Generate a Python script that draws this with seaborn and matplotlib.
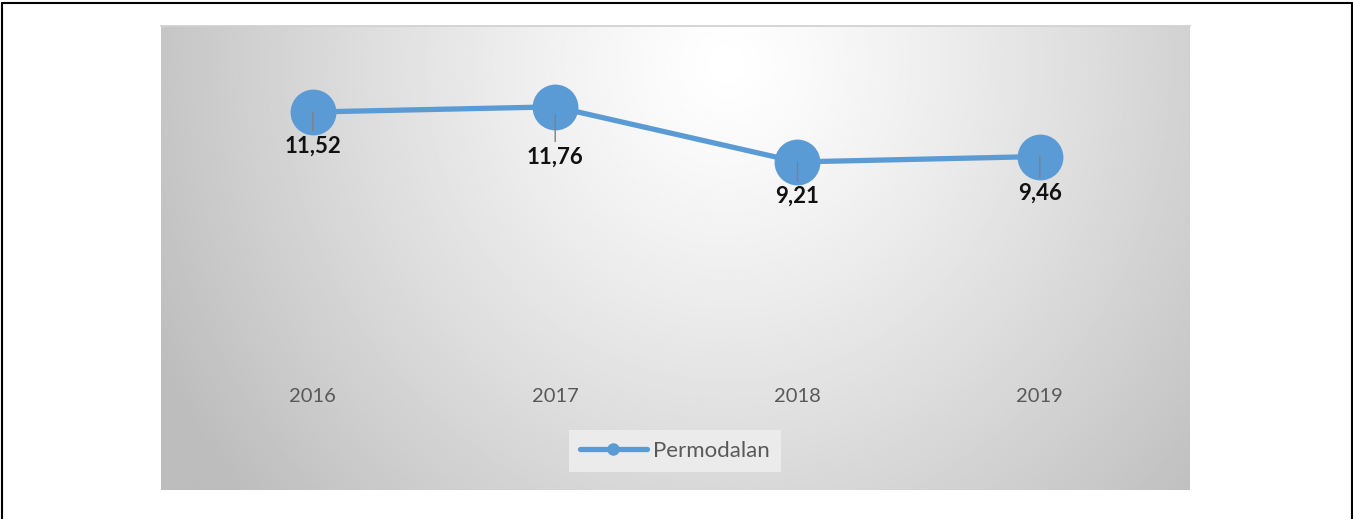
import matplotlib
matplotlib.use("Agg")
import matplotlib.pyplot as plt
import numpy as np
import pandas as pd
import seaborn as sns
from matplotlib.lines import Line2D

years = ["2016", "2017", "2018", "2019"]
permodalan = [11.52, 11.76, 9.21, 9.46]
value_labels = ["11,52", "11,76", "9,21", "9,46"]
series_name = "Permodalan"

# label placement below each marker (points), as in the source chart
label_drop = [24.5, 36, 25, 26.5]

df = pd.DataFrame({"year": years, "value": permodalan})

sns.set_theme(style="white")
plt.rcParams["font.family"] = ["Lato", "DejaVu Sans"]

W, H = 1353, 519
fig = plt.figure(figsize=(W / 100, H / 100), dpi=100)
fig.patch.set_facecolor("white")

# plot area = grey gradient panel
ax = fig.add_axes([161 / W, 1 - 490 / H, (1190 - 161) / W, (490 - 26) / H])

# radial grey background
gx, gy = np.meshgrid(np.linspace(0, 1, 400), np.linspace(0, 1, 200))
d = np.sqrt(((gx - 0.55) / 0.62) ** 2 + ((gy - 0.92) / 1.45) ** 2)
shade = 1.0 - 0.26 * np.clip(d, 0, 1) ** 1.2
ax.imshow(shade, cmap="gray", vmin=0, vmax=1, origin="lower",
          extent=[0, 1, 0, 1], transform=ax.transAxes, aspect="auto", zorder=0)

color = "#5b9bd5"
sns.lineplot(data=df, x="year", y="value", ax=ax, color=color, linewidth=3.8,
             marker="o", markersize=33, markeredgewidth=0, sort=False, zorder=3)

ax.set_xlim(-0.627, 3.62)
ax.set_ylim(-5.97, 15.5)

for i, (v, lab, dy) in enumerate(zip(permodalan, value_labels, label_drop)):
    ax.annotate("", xy=(i, v), xytext=(0, -(dy - 11)), textcoords="offset points",
                arrowprops=dict(arrowstyle="-", color="#808080", lw=1.0,
                                shrinkA=0, shrinkB=-5 if dy > 30 else 0), zorder=4)
    ax.annotate(lab, xy=(i, v), xytext=(0, -dy), textcoords="offset points",
                ha="center", va="center", fontsize=16, fontweight="bold",
                color="#111111", zorder=5)

ax.set_xlabel("")
ax.set_ylabel("")
ax.set_yticks([])
ax.set_xticks(range(len(years)))
ax.set_xticklabels(years)
ax.tick_params(axis="x", length=0, labelsize=14.5, labelcolor="#595959", pad=0)
for lbl in ax.get_xticklabels():
    lbl.set_transform(ax.get_xaxis_transform())
    lbl.set_position((lbl.get_position()[0], (490 - 397) / (490 - 26)))
    lbl.set_verticalalignment("center")
for s in ax.spines.values():
    s.set_visible(False)
ax.spines["top"].set_visible(True)
ax.spines["top"].set_color("#d0d0d0")

handle = Line2D([0], [0], color=color, lw=3.8, marker="o", markersize=9,
                markeredgewidth=0)
leg = ax.legend([handle], [series_name], loc="center",
                bbox_to_anchor=((675 - 161) / (1190 - 161), (490 - 451) / (490 - 26)),
                frameon=True, fancybox=False, fontsize=16, handlelength=3.0,
                handletextpad=0.3, borderpad=0.5, borderaxespad=0,
                labelcolor="#595959")
leg.get_frame().set_facecolor("#ebebeb")
leg.get_frame().set_edgecolor("none")
leg.get_frame().set_alpha(1)

# outer border (left, top, right)
fig.add_artist(Line2D([1.5 / W, 1.5 / W], [0, 1 - 3 / H], color="black", lw=1.5))
fig.add_artist(Line2D([1.5 / W, 1 - 1.5 / W], [1 - 3 / H, 1 - 3 / H], color="black", lw=1.5))
fig.add_artist(Line2D([1 - 1.5 / W, 1 - 1.5 / W], [0, 1 - 3 / H], color="black", lw=1.5))

fig.savefig("out.png", dpi=100)
